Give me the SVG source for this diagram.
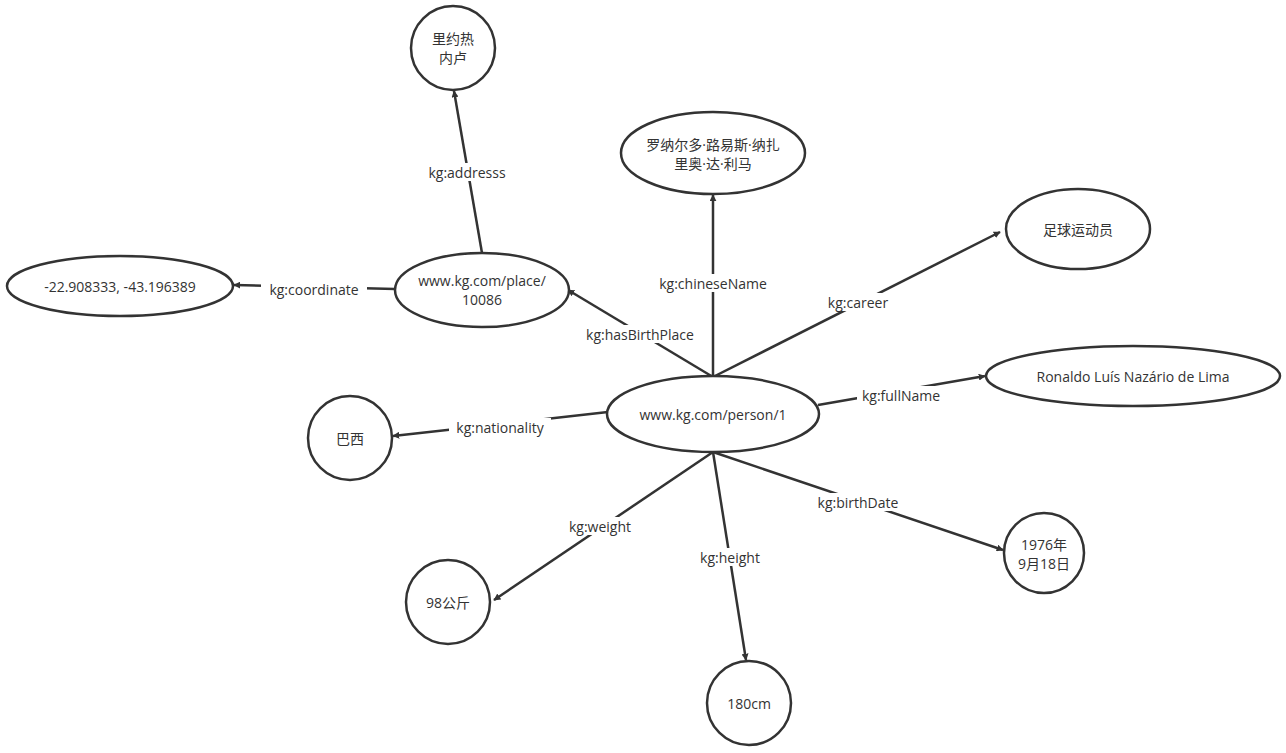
<svg xmlns="http://www.w3.org/2000/svg" width="1286" height="753" viewBox="0 0 1286 753">
<style>
.n{fill:#fff;stroke:#333;stroke-width:2.5}
.t{font-family:"Open Sans","Noto Sans CJK SC",sans-serif;font-size:14px;fill:#333;text-anchor:middle;dominant-baseline:central}
.e{stroke:#333;stroke-width:2.5;fill:none;marker-end:url(#a)}
.lb{fill:#fff}
</style>
<defs><marker id="a" viewBox="0 0 10 10" refX="9" refY="5" markerWidth="7" markerHeight="7" markerUnits="userSpaceOnUse" orient="auto"><path d="M0,0 L10,5 L0,10 z" fill="#333" transform="scale(1)"/></marker></defs>
<rect width="1286" height="753" fill="#fff"/>
<g id="connectors">
<line class="e" x1="713" y1="377" x2="713" y2="195"/>
<line class="e" x1="713" y1="377" x2="1000" y2="232"/>
<line class="e" x1="713" y1="377" x2="568" y2="290"/>
<line class="e" x1="482" y1="253" x2="454" y2="91"/>
<line class="e" x1="395" y1="289" x2="234" y2="285"/>
<line class="e" x1="818" y1="405" x2="985" y2="376"/>
<line class="e" x1="608" y1="412" x2="393" y2="436"/>
<line class="e" x1="713" y1="452" x2="494" y2="600"/>
<line class="e" x1="713" y1="452" x2="746" y2="660"/>
<line class="e" x1="713" y1="452" x2="1003" y2="550"/>
<g>
<rect class="lb" x="650" y="274" width="126" height="18"/><text class="t" x="713" y="283">kg:chineseName</text>
<rect class="lb" x="822" y="293" width="72" height="18"/><text class="t" x="858" y="302">kg:career</text>
<rect class="lb" x="577" y="325" width="126" height="18"/><text class="t" x="640" y="334">kg:hasBirthPlace</text>
<rect class="lb" x="422" y="163" width="90" height="18"/><text class="t" x="467" y="172">kg:addresss</text>
<rect class="lb" x="261" y="280" width="106" height="18"/><text class="t" x="314" y="289">kg:coordinate</text>
<rect class="lb" x="857" y="386" width="88" height="18"/><text class="t" x="901" y="395">kg:fullName</text>
<rect class="lb" x="449" y="418" width="102" height="18"/><text class="t" x="500" y="427">kg:nationality</text>
<rect class="lb" x="561" y="517" width="78" height="18"/><text class="t" x="600" y="526">kg:weight</text>
<rect class="lb" x="695" y="548" width="70" height="18"/><text class="t" x="730" y="557">kg:height</text>
<rect class="lb" x="810" y="493" width="96" height="18"/><text class="t" x="858" y="502">kg:birthDate</text>
</g>
</g>
<g id="n1"><circle class="n" cx="453" cy="48" r="42"/><text class="t" x="453" y="38">里约热</text><text class="t" x="453" y="57">内卢</text></g>
<g id="n2"><ellipse class="n" cx="713" cy="153" rx="92" ry="41"/><text class="t" x="713" y="144">罗纳尔多·路易斯·纳扎</text><text class="t" x="713" y="163">里奥·达·利马</text></g>
<g id="n3"><ellipse class="n" cx="1078" cy="229" rx="72" ry="40"/><text class="t" x="1078" y="229">足球运动员</text></g>
<g id="n4"><ellipse class="n" cx="120" cy="286" rx="113" ry="30"/><text class="t" x="120" y="286">-22.908333, -43.196389</text></g>
<g id="n5"><ellipse class="n" cx="482" cy="290" rx="87" ry="37"/><text class="t" x="482" y="280">www.kg.com/place/</text><text class="t" x="482" y="299">10086</text></g>
<g id="n6"><ellipse class="n" cx="1133" cy="376" rx="147" ry="30"/><text class="t" x="1133" y="376">Ronaldo Luís Nazário de Lima</text></g>
<g id="n7"><ellipse class="n" cx="713" cy="414" rx="106" ry="38"/><text class="t" x="713" y="414">www.kg.com/person/1</text></g>
<g id="n8"><circle class="n" cx="350" cy="438" r="42"/><text class="t" x="350" y="438">巴西</text></g>
<g id="n9"><circle class="n" cx="1044" cy="553" r="40"/><text class="t" x="1044" y="544">1976年</text><text class="t" x="1044" y="563">9月18日</text></g>
<g id="n10"><circle class="n" cx="448" cy="602" r="42"/><text class="t" x="448" y="602">98公斤</text></g>
<g id="n11"><circle class="n" cx="749" cy="703" r="42"/><text class="t" x="749" y="703">180cm</text></g>
</svg>
